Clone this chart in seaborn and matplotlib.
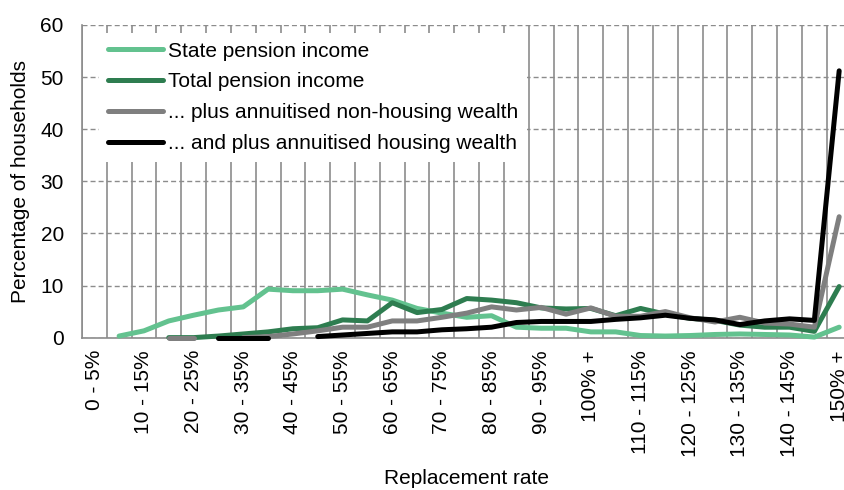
import numpy as np
import pandas as pd
import matplotlib
matplotlib.use("Agg")
import matplotlib.pyplot as plt
from matplotlib.lines import Line2D
import seaborn as sns

# replacement rate bands (x categories)
bands = ["0 - 5%", "5 - 10%", "10 - 15%", "15 - 20%", "20 - 25%", "25 - 30%",
         "30 - 35%", "35 - 40%", "40 - 45%", "45 - 50%", "50 - 55%", "55 - 60%",
         "60 - 65%", "65 - 70%", "70 - 75%", "75 - 80%", "80 - 85%", "85 - 90%",
         "90 - 95%", "95 - 100%", "100% +", "105 - 110%", "110 - 115%", "115 - 120%",
         "120 - 125%", "125 - 130%", "130 - 135%", "135 - 140%", "140 - 145%",
         "145 - 150%", "150% +"]

nan = np.nan
state_pension = [nan, 0.3, 1.3, 3.2, 4.3, 5.3, 5.9, 9.3, 9.0, 9.0, 9.3, 8.2, 7.2, 5.6, 4.7, 3.9,
                 4.2, 2.0, 1.8, 1.8, 1.1, 1.1, 0.4, 0.3, 0.4, 0.6, 0.7, 0.6, 0.5, 0.1, 2.0]
total_pension = [nan, nan, nan, 0.0, 0.0, 0.3, 0.7, 1.1, 1.7, 1.9, 3.4, 3.2, 6.7, 4.8, 5.4, 7.5,
                 7.2, 6.7, 5.7, 5.5, 5.6, 4.2, 5.6, 4.5, 3.7, 3.3, 2.4, 2.0, 2.0, 1.2, 9.8]
plus_non_housing = [nan, nan, nan, 0.0, 0.0, nan, 0.0, 0.2, 0.7, 1.3, 2.0, 2.0, 3.2, 3.2, 3.9, 4.7,
                    5.9, 5.3, 5.8, 4.5, 5.7, 4.1, 4.1, 5.0, 3.8, 3.0, 3.9, 2.8, 2.6, 2.0, 23.2]
plus_housing = [nan, nan, nan, nan, nan, 0.0, 0.0, 0.0, nan, 0.2, 0.5, 0.8, 1.1, 1.1, 1.5, 1.7,
                2.0, 2.9, 3.1, 3.1, 3.1, 3.5, 3.8, 4.3, 3.7, 3.4, 2.5, 3.2, 3.6, 3.3, 51.2]

series_names = ["State pension income", "Total pension income",
                "... plus annuitised non-housing wealth",
                "... and plus annuitised housing wealth"]
colors = ["#63C28F", "#2E7D50", "#7F7F7F", "#000000"]

# long format; gaps in a series split it into separate units
frames = []
for name, vals in zip(series_names, [state_pension, total_pension, plus_non_housing, plus_housing]):
    v = pd.Series(vals, dtype=float)
    frames.append(pd.DataFrame({"band": np.arange(len(bands)), "pct": v,
                                "series": name, "seg": v.isna().cumsum()}))
df = pd.concat(frames, ignore_index=True).dropna()
df["unit"] = df["series"] + "_" + df["seg"].astype(str)

sns.set_theme(style="white")
plt.rcParams["font.family"] = ["Liberation Sans", "DejaVu Sans"]
plt.rcParams["text.color"] = "black"
plt.rcParams["axes.labelcolor"] = "black"
fs = 15

fig = plt.figure(figsize=(8.45, 4.9), dpi=100)
ax = fig.add_axes([0.0969, 0.311, 0.9109, 0.638])

sns.lineplot(data=df, x="band", y="pct", hue="series", hue_order=series_names,
             palette=colors, units="unit", estimator=None, linewidth=3.6,
             solid_capstyle="round", clip_on=False, zorder=3, legend=False, ax=ax)

grid_col = "#8c8c8c"
ax.set_xlim(-0.5, len(bands) - 0.5)
ax.set_ylim(0, 60)
ax.set_yticks(range(0, 61, 10))
ax.set_xticks(np.arange(0, len(bands), 2))
ax.set_xticklabels(bands[::2], rotation=90, fontsize=fs)
ax.set_xticks(np.arange(-0.5, len(bands), 1), minor=True)
ax.tick_params(axis="x", which="major", length=0, pad=9)
ax.tick_params(axis="x", which="minor", length=4, width=1, direction="out")
ax.tick_params(axis="y", length=4, width=1, direction="out", pad=9, labelsize=fs)
ax.tick_params(axis="both", which="both", color=grid_col, labelcolor="black")

ax.set_axisbelow(True)
ax.xaxis.grid(True, which="minor", color=grid_col, linewidth=1.2)
ax.yaxis.grid(True, which="major", color=grid_col, linewidth=1.0, linestyle=(0, (3.6, 2.2)))

for side in ["top", "right"]:
    ax.spines[side].set_visible(False)
for side in ["left", "bottom"]:
    ax.spines[side].set_color(grid_col)
    ax.spines[side].set_linewidth(1.2)

ax.set_xlabel("Replacement rate", fontsize=fs)
ax.xaxis.set_label_coords(0.5, -0.42)
ax.set_ylabel("Percentage of households", fontsize=fs)
ax.yaxis.set_label_coords(-0.068, 0.5)

handles = [Line2D([], [], color=c, linewidth=3.6, solid_capstyle="round") for c in colors]
leg = ax.legend(handles, series_names, loc="upper left", bbox_to_anchor=(0.009, 1.007),
                fontsize=fs, handlelength=2.65, handletextpad=0.25, labelspacing=0.57,
                borderpad=0.4, frameon=True, fancybox=False, framealpha=1,
                facecolor="white", edgecolor="none", labelcolor="black")
leg.set_zorder(5)

fig.savefig("out.png", dpi=100)
